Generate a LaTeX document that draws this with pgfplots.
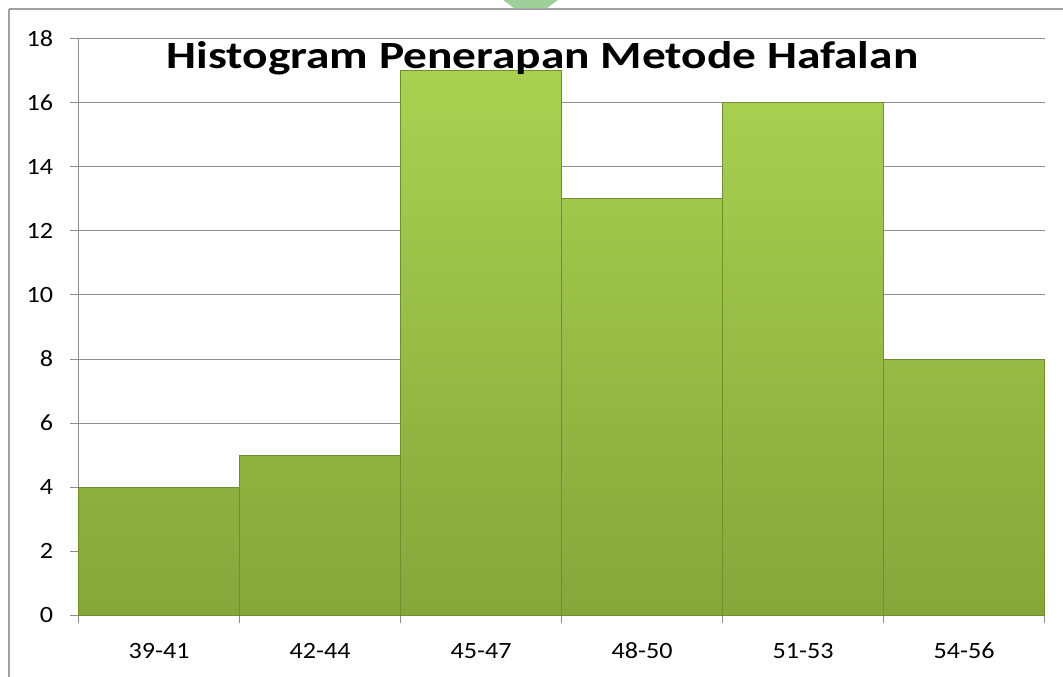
\documentclass[border=0pt]{standalone}
\usepackage{pgfplots}
\pgfplotsset{compat=1.18}
\usepackage{fontspec}
\setmainfont{Carlito}
\definecolor{gridgray}{HTML}{8E8E8E}
\definecolor{framegray}{HTML}{A0A0A0}
\definecolor{bartop}{HTML}{A9D151}
\definecolor{barbot}{HTML}{86A63A}
\definecolor{baredge}{HTML}{6F8E30}
\definecolor{wm}{HTML}{9FD09A}
\begin{document}
\begin{tikzpicture}[x=0.75pt,y=0.75pt]
\useasboundingbox (-78.5,-61.5) rectangle (984.5,615.5);
\begin{scope}
\clip (-78.5,-61.5) rectangle (984.5,615.5);
\draw[framegray, line width=1.5pt] (-69,606) -- (1000,606);
\draw[framegray, line width=1.5pt] (-69,606) -- (-69,-100);
\fill[wm] (424,616) -- (480,616) -- (468,607) -- (436,607) -- cycle;
\end{scope}
\begin{axis}[
  at={(0,0)}, anchor=south west,
  scale only axis,
  width=724.5pt, height=432.75pt,
  xmin=-0.5, xmax=5.5,
  ymin=0, ymax=18,
  ytick={0,2,...,18},
  xtick={0,1,2,3,4,5},
  xticklabels={39-41,42-44,45-47,48-50,51-53,54-56},
  minor xtick={-0.5,0.5,1.5,2.5,3.5,4.5,5.5},
  major x tick style={draw=none},
  minor x tick style={gridgray, line width=0.75pt},
  minor tick length=6pt,
  major tick length=6pt,
  y tick style={gridgray, line width=0.75pt},
  tick align=outside,
  axis x line*=bottom,
  axis y line*=left,
  axis line style={gridgray, line width=0.75pt, -},
  ymajorgrids,
  major grid style={gridgray, line width=0.75pt},
  /pgf/number format/assume math mode=true,
  tick label style={font=\fontsize{17.5}{20}\selectfont, black, xscale=1.12},
  yticklabel style={anchor=east, inner sep=0pt, xshift=-11.5pt},
  xticklabel style={anchor=center, inner sep=0pt, yshift=-20.5pt},
  ybar, bar width=1,
  clip=false,
]
\addplot[draw=baredge, line width=0.6pt, top color=bartop, bottom color=barbot]
  coordinates {(0,4) (1,5) (2,17) (3,13) (4,16) (5,8)};
\end{axis}
\node[anchor=base, font=\fontsize{28.9}{34}\selectfont\bfseries, inner sep=0pt, xscale=1.23] at (464,546.5) {Histogram Penerapan Metode Hafalan};
\end{tikzpicture}
\end{document}
